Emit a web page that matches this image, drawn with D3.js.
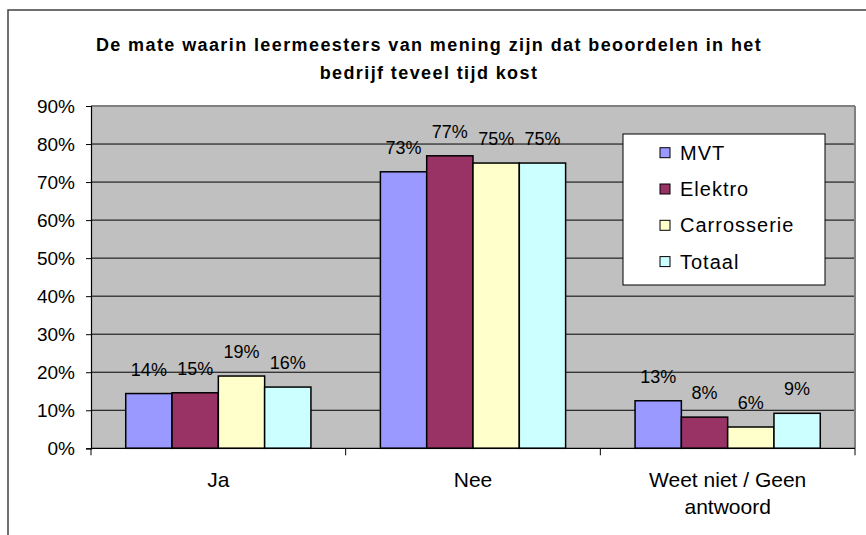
<!DOCTYPE html>
<html>
<head>
<meta charset="utf-8">
<script src="https://cdn.jsdelivr.net/npm/d3@7"></script>
<style>
  body { margin: 0; background: #fff; }
  svg { font-family: Arial, "Liberation Sans", sans-serif; }
</style>
</head>
<body>
<svg id="chart" width="866" height="535"></svg>
<script>
// Chart data
const categories = ["Ja", "Nee", "Weet niet / Geen antwoord"];
const categoryLines = [["Ja"], ["Nee"], ["Weet niet / Geen", "antwoord"]];
const seriesNames = ["MVT", "Elektro", "Carrosserie", "Totaal"];
const seriesColors = ["#9999FF", "#993366", "#FFFFCC", "#CCFFFF"];
const mvt = [0.144, 0.727, 0.125];
const elektro = [0.146, 0.769, 0.082];
const carrosserie = [0.190, 0.750, 0.056];
const totaal = [0.161, 0.750, 0.092];
const yTicks = [0, 0.1, 0.2, 0.3, 0.4, 0.5, 0.6, 0.7, 0.8, 0.9];
const titleLines = ["De mate waarin leermeesters van mening zijn dat beoordelen in het", "bedrijf teveel tijd kost"];

const seriesValues = [mvt, elektro, carrosserie, totaal];

// Layout
const plot = { left: 91, top: 106, right: 855, bottom: 448.3 };

const svg = d3.select("#chart");

// outer frame (runs past the right and bottom edges of the picture)
svg.append("rect")
  .attr("x", 8).attr("y", 10)
  .attr("width", 900).attr("height", 600)
  .attr("fill", "#fff")
  .attr("stroke", "#404040")
  .attr("stroke-width", 1.5);

// title
const title = svg.append("text")
  .attr("x", 429).attr("y", 50.5)
  .attr("text-anchor", "middle")
  .style("font-size", "18px")
  .style("font-weight", "bold")
  .style("letter-spacing", "1.4px");
titleLines.forEach((t, i) => {
  title.append("tspan").attr("x", 429).attr("dy", i === 0 ? 0 : 28.5).text(t);
});

// scales
const x0 = d3.scaleBand()
  .domain(categories)
  .range([plot.left, plot.right])
  .paddingInner(0).paddingOuter(0);

const x1 = d3.scaleBand()
  .domain(seriesNames)
  .range([0, x0.bandwidth()])
  .paddingInner(0).paddingOuter(0.75);

const y = d3.scaleLinear()
  .domain([0, 0.9])
  .range([plot.bottom, plot.top]);

// plot background
svg.append("rect")
  .attr("x", plot.left).attr("y", plot.top)
  .attr("width", plot.right - plot.left)
  .attr("height", plot.bottom - plot.top)
  .attr("fill", "#C0C0C0");

// gridlines
svg.append("g")
  .selectAll("line")
  .data(yTicks.slice(1))
  .enter()
  .append("line")
  .attr("x1", plot.left).attr("x2", plot.right)
  .attr("y1", d => y(d)).attr("y2", d => y(d))
  .attr("stroke", d => d === 0.9 ? "#808080" : "#000")
  .attr("stroke-width", d => d === 0.9 ? 2 : 1);

// right edge of plot area
svg.append("line")
  .attr("x1", plot.right).attr("x2", plot.right)
  .attr("y1", plot.top).attr("y2", plot.bottom)
  .attr("stroke", "#808080")
  .attr("stroke-width", 2);

// y axis
const yAxis = d3.axisLeft(y)
  .tickValues(yTicks)
  .tickFormat(d3.format(".0%"))
  .tickSize(5)
  .tickPadding(11);

const yAxisG = svg.append("g")
  .attr("transform", `translate(${plot.left},0)`)
  .call(yAxis);
yAxisG.select(".domain").attr("stroke", "#000").attr("stroke-width", 1.2);
yAxisG.selectAll(".tick line").attr("stroke", "#000");
yAxisG.selectAll("text")
  .style("font-size", "19px")
  .style("font-family", "Arial, 'Liberation Sans', sans-serif")
  .attr("fill", "#000");

// bars
const groups = svg.append("g")
  .selectAll("g")
  .data(seriesNames)
  .enter()
  .append("g")
  .attr("fill", (d, i) => seriesColors[i]);

groups.selectAll("rect")
  .data((s, si) => categories.map((c, ci) => ({ series: s, cat: c, value: seriesValues[si][ci] })))
  .enter()
  .append("rect")
  .attr("x", d => x0(d.cat) + x1(d.series))
  .attr("y", d => y(d.value))
  .attr("width", x1.bandwidth())
  .attr("height", d => y(0) - y(d.value))
  .attr("stroke", "#000")
  .attr("stroke-width", 1.5);

// data labels
groups.selectAll("text")
  .data((s, si) => categories.map((c, ci) => ({ series: s, cat: c, value: seriesValues[si][ci] })))
  .enter()
  .append("text")
  .attr("x", d => x0(d.cat) + x1(d.series) + x1.bandwidth() / 2)
  .attr("y", d => y(d.value) - 18)
  .attr("text-anchor", "middle")
  .attr("fill", "#000")
  .style("font-size", "18px")
  .text(d => d3.format(".0%")(d.value));

// x axis
const xAxisG = svg.append("g")
  .attr("transform", `translate(0,${plot.bottom})`);
xAxisG.append("line")
  .attr("x1", plot.left).attr("x2", plot.right)
  .attr("stroke", "#000").attr("stroke-width", 1.2);
xAxisG.selectAll(".xtick")
  .data(categories.map(c => x0(c)).concat([plot.right]))
  .enter()
  .append("line")
  .attr("class", "xtick")
  .attr("x1", d => d).attr("x2", d => d)
  .attr("y1", 0).attr("y2", 7)
  .attr("stroke", "#000");

xAxisG.selectAll(".xlabel")
  .data(categories)
  .enter()
  .append("text")
  .attr("class", "xlabel")
  .attr("text-anchor", "middle")
  .attr("y", 39)
  .style("font-size", "21px")
  .each(function (c, i) {
    const t = d3.select(this);
    categoryLines[i].forEach((line, li) => {
      t.append("tspan")
        .attr("x", x0(c) + x0.bandwidth() / 2)
        .attr("dy", li === 0 ? 0 : 27)
        .text(line);
    });
  });

// legend
const legend = svg.append("g").attr("transform", "translate(623,134)");
legend.append("rect")
  .attr("width", 202).attr("height", 151)
  .attr("fill", "#fff")
  .attr("stroke", "#000")
  .attr("stroke-width", 1);

const legendItems = legend.selectAll(".item")
  .data(seriesNames)
  .enter()
  .append("g")
  .attr("class", "item")
  .attr("transform", (d, i) => `translate(37,${18.7 + i * 36.3})`);

legendItems.append("rect")
  .attr("x", 0).attr("y", -5)
  .attr("width", 10).attr("height", 10)
  .attr("fill", (d, i) => seriesColors[i])
  .attr("stroke", "#000")
  .attr("stroke-width", 1);

legendItems.append("text")
  .attr("x", 20).attr("y", 7)
  .style("font-size", "20px")
  .style("letter-spacing", "1px")
  .text(d => d);
</script>
</body>
</html>
